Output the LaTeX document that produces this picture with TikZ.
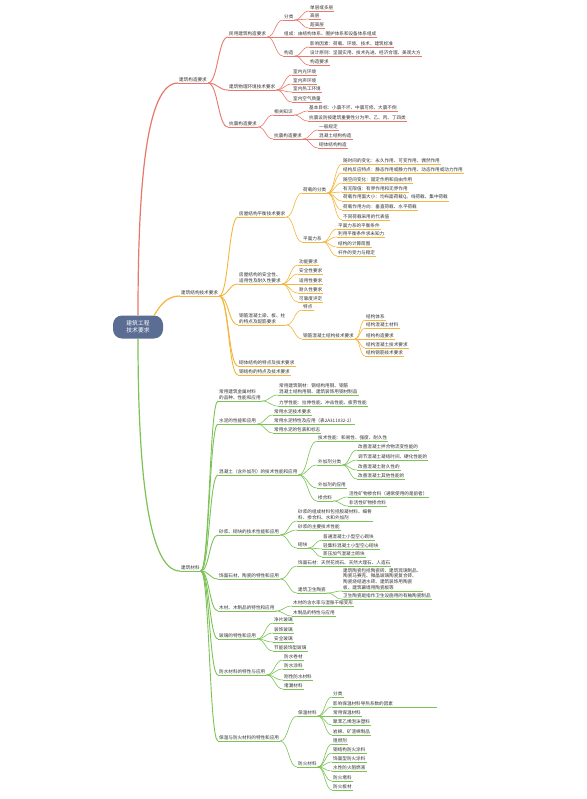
\documentclass[tikz,border=0pt]{standalone}
\usepackage{fontspec}
\setmainfont{Noto Sans CJK SC}
\usetikzlibrary{calc}
\definecolor{cr}{HTML}{E9776B}
\definecolor{co}{HTML}{F4B63C}
\definecolor{cg}{HTML}{7CC356}
\definecolor{cb}{HTML}{5B6D93}
\definecolor{tx}{HTML}{333333}
\newcommand\fs{\fontsize{4.6}{5.6}\selectfont}
\tikzset{
 nd/.style={anchor=south west, inner xsep=1pt, inner ysep=1.3pt, font=\fs, text=tx, align=left},
 ul/.style={line width=0.6pt},
 cnl/.style={line width=0.6pt},
 trunk/.style={line width=1.2pt},
}
\newcommand\mm[4]{\node[nd] (#2) at (#3) {#4}; \draw[ul,#1] (#2.south west) -- (#2.south east);}
\newcommand\fan[3]{\foreach \kid in {#3}{\draw[cnl,#1] (#2.south east) .. controls ($(#2.south east)!0.5!(\kid.south west |- #2.south east)$) and ($(\kid.south west)!0.5!(#2.south east |- \kid.south west)$) .. (\kid.south west);}}
\begin{document}
\begin{tikzpicture}[x=1pt,y=-1pt]
\useasboundingbox (0,0) rectangle (586,799);
\fill[white] (0,0) rectangle (586,799);
% root
\node[fill=cb, rounded corners=9pt, minimum width=50pt, minimum height=23pt, text=white, font=\fontsize{5.8}{7.5}\selectfont, align=center] (R) at (138,327) {建筑工程\\技术要求};
% ---------------- red
\mm{cr}{A}{178,83}{建筑构造要求}
\mm{cr}{A1}{228,37}{民用建筑构造要求}
\mm{cr}{A2}{228,90}{建筑物理环境技术要求}
\mm{cr}{A3}{228,127}{抗震构造要求}
\mm{cr}{A11}{283,20}{分类}
\mm{cr}{A12}{283,37}{组成：由结构体系、围护体系和设备体系组成}
\mm{cr}{A13}{283,56}{构造}
\mm{cr}{A111}{309,11}{单层或多层}
\mm{cr}{A112}{309,19}{高层}
\mm{cr}{A113}{309,28}{超高层}
\mm{cr}{A131}{309,47}{影响因素：荷载、环境、技术、建筑标准}
\mm{cr}{A132}{309,56}{设计原则：坚固实用、技术先进、经济合理、美观大方}
\mm{cr}{A133}{309,65}{构造要求}
\mm{cr}{A21}{292,75}{室内光环境}
\mm{cr}{A22}{292,84}{室内声环境}
\mm{cr}{A23}{292,92}{室内热工环境}
\mm{cr}{A24}{292,102}{室内空气质量}
\mm{cr}{A31}{273,115}{相关知识}
\mm{cr}{A32}{273,139}{抗震构造要求}
\mm{cr}{A311}{308,111}{基本目标：小震不坏、中震可修、大震不倒}
\mm{cr}{A312}{308,121}{抗震设防按建筑重要性分为甲、乙、丙、丁四类}
\mm{cr}{A321}{318,130}{一般规定}
\mm{cr}{A322}{318,139}{混凝土结构构造}
\mm{cr}{A323}{318,148}{砌体结构构造}
\draw[cr,trunk] (R.north) to[out=90,in=180,out looseness=1.4,in looseness=0.35] (A.south west);
\fan{cr,line width=0.9pt}{A}{A1,A2,A3}
\fan{cr}{A1}{A11,A12,A13}
\fan{cr}{A11}{A111,A112,A113}
\fan{cr}{A13}{A131,A132,A133}
\fan{cr}{A2}{A21,A22,A23,A24}
\fan{cr}{A3}{A31,A32}
\fan{cr}{A31}{A311,A312}
\fan{cr}{A32}{A321,A322,A323}
% ---------------- orange
\mm{co}{B}{180,296}{建筑结构技术要求}
\mm{co}{B1}{238,217}{房屋结构平衡技术要求}
\mm{co}{B2}{238,284}{房屋结构的安全性、\\适用性及耐久性要求}
\mm{co}{B3}{238,325}{钢筋混凝土梁、板、柱\\的特点及配筋要求}
\mm{co}{B4}{238,366}{砌体结构的特点及技术要求}
\mm{co}{B5}{238,375}{钢结构的特点及技术要求}
\mm{co}{B11}{302,193}{荷载的分类}
\mm{co}{B12}{302,242}{平面力系}
\mm{co}{B111}{342,164}{随时间的变化：永久作用、可变作用、偶然作用}
\mm{co}{B112}{342,173}{结构反应特点：静态作用或静力作用、动态作用或动力作用}
\mm{co}{B113}{342,183}{随空间变化：固定作用和自由作用}
\mm{co}{B114}{342,192}{有无限值：有界作用和无界作用}
\mm{co}{B115}{342,201}{荷载作用面大小：均布面荷载Q、线荷载、集中荷载}
\mm{co}{B116}{342,210}{荷载作用方向：垂直荷载、水平荷载}
\mm{co}{B117}{342,220}{不同荷载采用的代表值}
\mm{co}{B121}{337,229}{平面力系的平衡条件}
\mm{co}{B122}{337,237}{利用平衡条件求未知力}
\mm{co}{B123}{337,247}{结构的计算简图}
\mm{co}{B124}{337,256}{杆件的受力与稳定}
\mm{co}{B21}{298,265}{功能要求}
\mm{co}{B22}{298,274}{安全性要求}
\mm{co}{B23}{298,284}{适用性要求}
\mm{co}{B24}{298,293}{耐久性要求}
\mm{co}{B25}{298,302}{可靠度评定}
\mm{co}{B31}{302,310}{特点}
\mm{co}{B32}{302,339}{钢筋混凝土结构技术要求}
\mm{co}{B321}{365,320}{结构体系}
\mm{co}{B322}{365,328}{结构混凝土材料}
\mm{co}{B323}{365,339}{结构构造要求}
\mm{co}{B324}{365,348}{结构混凝土技术要求}
\mm{co}{B325}{365,356}{结构钢筋技术要求}
\draw[co,trunk] ($(R.north east)+(-9,0)$) to[out=60,in=180] (B.south west);
\fan{co,line width=0.9pt}{B}{B1,B2,B3,B4,B5}
\fan{co}{B1}{B11,B12}
\fan{co}{B11}{B111,B112,B113,B114,B115,B116,B117}
\fan{co}{B12}{B121,B122,B123,B124}
\fan{co}{B2}{B21,B22,B23,B24,B25}
\fan{co}{B3}{B31,B32}
\fan{co}{B32}{B321,B322,B323,B324,B325}
% ---------------- green
\mm{cg}{C}{180,571}{建筑材料}
\mm{cg}{C1}{218,401}{常用建筑金属材料\\的品种、性能和应用}
\mm{cg}{C2}{218,424}{水泥的性能和应用}
\mm{cg}{C3}{218,475}{混凝土（含外加剂）的技术性能和应用}
\mm{cg}{C4}{218,535}{砂浆、砌块的技术性能和应用}
\mm{cg}{C5}{218,579}{饰面石材、陶瓷的特性和应用}
\mm{cg}{C6}{218,611}{木材、木制品的特性和应用}
\mm{cg}{C7}{218,639}{玻璃的特性和应用}
\mm{cg}{C8}{218,675}{防水材料的特性与应用}
\mm{cg}{C9}{218,741}{保温与防火材料的特性和应用}
\mm{cg}{C11}{278,395}{常用建筑钢材：钢结构用钢、钢筋\\混凝土结构用钢、建筑装饰用钢材制品}
\mm{cg}{C12}{278,406}{力学性能：拉伸性能、冲击性能、疲劳性能}
\mm{cg}{C21}{273,415}{常用水泥技术要求}
\mm{cg}{C22}{273,424}{常用水泥特性及应用（表2A311032-2）}
\mm{cg}{C23}{273,433}{常用水泥的包装和标志}
\mm{cg}{C31}{317,441}{技术性能：和易性、强度、耐久性}
\mm{cg}{C32}{317,465}{外加剂分类}
\mm{cg}{C33}{317,488}{外加剂的应用}
\mm{cg}{C34}{317,501}{掺合料}
\mm{cg}{C321}{357,450}{改善混凝土拌合物流变性能的}
\mm{cg}{C322}{357,460}{调节混凝土凝结时间、硬化性能的}
\mm{cg}{C323}{357,470}{改善混凝土耐久性的}
\mm{cg}{C324}{357,479}{改善混凝土其他性能的}
\mm{cg}{C341}{348,497}{活性矿物掺合料（通常使用的是前者）}
\mm{cg}{C342}{348,506}{非活性矿物掺合料}
\mm{cg}{C41}{297,521}{砂浆的组成材料包括胶凝材料、细骨\\料、掺合料、水和外加剂}
\mm{cg}{C42}{297,530}{砂浆的主要技术性能}
\mm{cg}{C43}{297,548}{砌块}
\mm{cg}{C431}{322,540}{普通混凝土小型空心砌块}
\mm{cg}{C432}{322,549}{轻集料混凝土小型空心砌块}
\mm{cg}{C433}{322,557}{蒸压加气混凝土砌块}
\mm{cg}{C51}{297,566}{饰面石材：天然花岗石、天然大理石、人造石}
\mm{cg}{C52}{297,593}{建筑卫生陶瓷}
\mm{cg}{C521}{342,591}{建筑陶瓷包括陶瓷砖、建筑琉璃制品、\\陶瓷马赛克、微晶玻璃陶瓷复合砖、\\陶瓷烧结透水砖、建筑装饰用陶瓷\\板、建筑幕墙用陶瓷板等}
\mm{cg}{C522}{342,599}{卫生陶瓷是指作卫生设施用的有釉陶瓷制品}
\mm{cg}{C61}{292,606}{木材的含水率与湿胀干缩变形}
\mm{cg}{C62}{292,616}{木制品的特性与应用}
\mm{cg}{C71}{273,623}{净片玻璃}
\mm{cg}{C72}{273,633}{装饰玻璃}
\mm{cg}{C73}{273,642}{安全玻璃}
\mm{cg}{C74}{273,651}{节能装饰型玻璃}
\mm{cg}{C81}{283,660}{防水卷材}
\mm{cg}{C82}{283,669}{防水涂料}
\mm{cg}{C83}{283,680}{刚性防水材料}
\mm{cg}{C84}{283,689}{堵漏材料}
\mm{cg}{C91}{297,716}{保温材料}
\mm{cg}{C92}{297,767}{防火材料}
\mm{cg}{C911}{332,697}{分类}
\node[nd] (C912) at (332,707) {影响保温材料导热系数的因素};
\draw[ul,cg] (C912.south west) -- ++(105,0);
\mm{cg}{C913}{332,716}{常用保温材料}
\mm{cg}{C914}{332,725}{聚苯乙烯泡沫塑料}
\mm{cg}{C915}{332,735}{岩棉、矿渣棉制品}
\mm{cg}{C921}{332,744}{阻燃剂}
\mm{cg}{C922}{332,753}{钢结构防火涂料}
\mm{cg}{C923}{332,762}{饰面型防火涂料}
\mm{cg}{C924}{332,771}{水性防火阻燃液}
\mm{cg}{C925}{332,781}{防火堵料}
\mm{cg}{C926}{332,790}{防火板材}
\draw[cg,trunk] (R.south) to[out=-90,in=180,out looseness=1.4,in looseness=0.35] (C.south west);
\fan{cg,line width=0.9pt}{C}{C1,C2,C3,C4,C5,C6,C7,C8,C9}
\fan{cg}{C1}{C11,C12}
\fan{cg}{C2}{C21,C22,C23}
\fan{cg}{C3}{C31,C32,C33,C34}
\fan{cg}{C32}{C321,C322,C323,C324}
\fan{cg}{C34}{C341,C342}
\fan{cg}{C4}{C41,C42,C43}
\fan{cg}{C43}{C431,C432,C433}
\fan{cg}{C5}{C51,C52}
\fan{cg}{C52}{C521,C522}
\fan{cg}{C6}{C61,C62}
\fan{cg}{C7}{C71,C72,C73,C74}
\fan{cg}{C8}{C81,C82,C83,C84}
\fan{cg}{C9}{C91,C92}
\fan{cg}{C91}{C911,C912,C913,C914,C915}
\fan{cg}{C92}{C921,C922,C923,C924,C925,C926}
\end{tikzpicture}
\end{document}
